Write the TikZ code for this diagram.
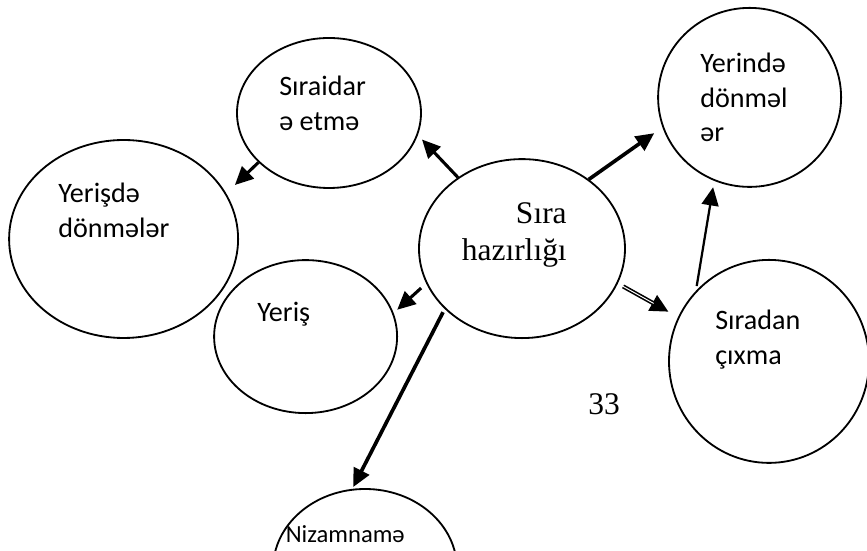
\documentclass[tikz,border=0pt]{standalone}
\usepackage{fontspec}
\setmainfont{Liberation Serif}
\newfontfamily\calibri{Carlito}
\usetikzlibrary{arrows.meta, positioning, shapes.geometric}

\begin{document}
\begin{tikzpicture}[
  bubble/.style={draw=black, line width=1.3pt, ellipse, inner sep=0pt},
  word/.style={font=\calibri\fontsize{20}{24.5}\selectfont, align=left,
               inner sep=0pt, anchor=north west},
  serifword/.style={font=\fontsize{22.4}{26.5}\selectfont, inner sep=0pt},
  link/.style={-{Triangle[length=13pt, width=12pt]},
               line width=2.2pt, black}
]
  \useasboundingbox (0,0) rectangle (21.675,13.775);

  \node[bubble, minimum width=5.15cm, minimum height=4.475cm] (sira) at (13.05,7.56) {};
  \node[bubble, minimum width=4.6cm, minimum height=3.75cm] (siraidar) at (8.225,10.95) {};
  \node[bubble, minimum width=4.575cm, minimum height=4.475cm] (yerinde) at (18.74,11.34) {};
  \node[bubble, minimum width=5.725cm, minimum height=4.95cm] (yerisde) at (3.09,7.8) {};
  \node[bubble, minimum width=4.575cm, minimum height=3.825cm] (yeris) at (7.64,5.36) {};
  \node[bubble, minimum width=5cm, minimum height=5.075cm] (siradan) at (19.225,4.74) {};
  \node[bubble, minimum width=4.6cm, minimum height=4cm] (nizamname) at (9.125,-0.45) {};

  \node[serifword, align=right, anchor=north east] (sira-t) at (14.175,8.725)
    {Sıra\\hazırlığı};
  \node[word] (siraidar-t) at (6.975,11.875) {Sıraidar\\ə etmə};
  \node[word] (yerinde-t) at (17.5,12.45) {Yerində\\dönməl\\ər};
  \node[word] (yerisde-t) at (1.45,9.2) {Yerişdə\\dönmələr};
  \node[word] (yeris-t) at (6.425,6.225) {Yeriş};
  \node[word] (siradan-t) at (17.875,6.025) {Sıradan\\çıxma};
  \node[word, font=\calibri\fontsize{17.5}{21}\selectfont, anchor=base east]
    (nizamname-t) at (10.125,0.2) {Nizamnamə};
  \node[serifword] (page) at (15.1,3.675) {33};

  \draw[link, shorten >=0.15cm] (sira.132) -- (siraidar.-14);
  \draw[link, shorten >=0.3cm] (siraidar.215) -- (yerisde.24);
  \draw[link, line width=2.6pt, shorten >=0.25cm] (sira.46) -- (yerinde.199);
  \draw[link, line width=1.6pt, shorten <=0.12cm, shorten >=0.16cm]
    (siradan.136) -- (yerinde.247);
  \draw[link, line width=3pt, shorten <=0.15cm, shorten >=0.27cm]
    (sira.-20) -- (siradan.154);
  \draw[white, line width=0.7pt, shorten <=0.15cm, shorten >=0.7cm]
    (sira.-20) -- (siradan.154);
  \draw[link, shorten <=0.17cm, shorten >=0.12cm] (sira.200) -- (yeris.15);
  \draw[link, line width=2.6pt, shorten <=0.09cm, shorten >=0.05cm]
    (sira.218) -- (nizamname.99);
\end{tikzpicture}
\end{document}
